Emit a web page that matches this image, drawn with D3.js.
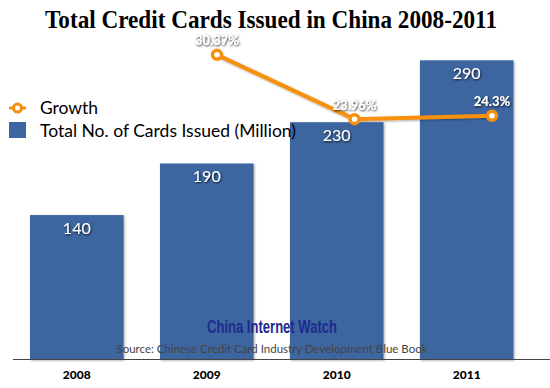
<!DOCTYPE html>
<html><head><meta charset="utf-8">
<script src="https://cdn.jsdelivr.net/npm/d3@7"></script>
<style>body{margin:0;background:#fff}svg{display:block}</style>
</head><body>
<script>
const years = ["2008","2009","2010","2011"];
const cards = [140,190,230,290];
const growthYears = ["2009","2010","2011"];
const growth = [30.37,23.96,24.3];
const growthLabels = ["30.37%","23.96%","24.3%"];
const title = "Total Credit Cards Issued in China 2008-2011";
const legendLabels = ["Growth","Total No. of Cards Issued (Million)"];
const watermark = "China Internet Watch";
const source = "Source: Chinese Credit Card Industry Development Blue Book";

const W=550,H=388, base=359.5, yTop=50;
const svg=d3.select("body").append("svg").attr("width",W).attr("height",H);
const defs=svg.append("defs");
const f=defs.append("filter").attr("id","sh").attr("x","-20%").attr("y","-20%").attr("width","150%").attr("height","150%");
f.append("feDropShadow").attr("dx",1).attr("dy",1).attr("stdDeviation",1).attr("flood-color","#000").attr("flood-opacity",0.35);
const ft=defs.append("filter").attr("id","tsh").attr("x","-20%").attr("y","-40%").attr("width","150%").attr("height","200%");
ft.append("feDropShadow").attr("dx",0.8).attr("dy",1).attr("stdDeviation",0.8).attr("flood-color","#000").attr("flood-opacity",0.85);

const x=d3.scaleBand().domain(years).range([30,513.5]).paddingInner(0.28).paddingOuter(0);
const y=d3.scaleLinear().domain([0,300]).range([base,yTop]);
const xl=d3.scalePoint().domain(years).range([79.5,492]);
const yl=d3.scaleLinear().domain([0,31]).range([base,base-311]);

// title
svg.append("text").attr("x",271).attr("y",28).attr("text-anchor","middle")
  .attr("font-family","Liberation Serif").attr("font-weight","bold").attr("font-size",25)
  .attr("textLength",452).attr("lengthAdjust","spacingAndGlyphs").attr("fill","#000").text(title);

// bars
svg.selectAll("rect.bar").data(years).join("rect").attr("class","bar")
  .attr("x",d=>x(d)).attr("width",x.bandwidth())
  .attr("y",(d,i)=>y(cards[i])).attr("height",(d,i)=>base-y(cards[i]))
  .attr("fill","#3c66a0").attr("filter","url(#sh)");

svg.selectAll("text.val").data(years).join("text").attr("class","val")
  .attr("x",d=>x(d)+x.bandwidth()/2).attr("y",(d,i)=>y(cards[i])+19)
  .attr("text-anchor","middle").attr("font-family","Lato").attr("font-size",16)
  .attr("fill","#fff").attr("filter","url(#tsh)").text((d,i)=>cards[i]);

// watermark + source
svg.append("text").attr("x",272).attr("y",333).attr("text-anchor","middle")
  .attr("font-family","Liberation Sans").attr("font-weight","bold").attr("font-size",18)
  .attr("textLength",130).attr("lengthAdjust","spacingAndGlyphs")
  .attr("fill","#1d2a8e").text(watermark);
svg.append("text").attr("x",272).attr("y",353).attr("text-anchor","middle")
  .attr("font-family","Lato").attr("font-size",12)
  .attr("textLength",311).attr("lengthAdjust","spacingAndGlyphs")
  .attr("fill","#444").text(source);

// axis
const ax=svg.append("g").attr("transform",`translate(0,${base})`)
  .call(d3.axisBottom(x).tickSize(0).tickPadding(11));
ax.select(".domain").remove();
ax.append("line").attr("x1",13).attr("x2",550).attr("stroke","#444").attr("stroke-width",1);
ax.selectAll(".tick text").attr("font-family","Lato").attr("font-weight","900").attr("font-size",12).attr("fill","#000");

// line
const pts=growthYears.map((d,i)=>[xl(d),yl(growth[i])]);
svg.append("path").attr("d",d3.line()(pts)).attr("fill","none").attr("stroke","#f7900f").attr("stroke-width",4).attr("filter","url(#sh)");
svg.selectAll("circle.pt").data(pts).join("circle").attr("class","pt")
  .attr("cx",d=>d[0]).attr("cy",d=>d[1]).attr("r",4.5)
  .attr("fill","#fff").attr("stroke","#f7900f").attr("stroke-width",3.5);
svg.selectAll("text.gl").data(growthYears).join("text").attr("class","gl")
  .attr("x",d=>xl(d)).attr("y",(d,i)=>yl(growth[i])-9.5)
  .attr("text-anchor","middle").attr("font-family","Lato").attr("font-weight",(d,i)=>i==2?"900":"bold").attr("font-size",13)
  .attr("fill","#fff").attr("filter","url(#tsh)").text((d,i)=>growthLabels[i]);

// legend
const lg=svg.append("g");
lg.append("line").attr("x1",9).attr("x2",26).attr("y1",108).attr("y2",108).attr("stroke","#f7900f").attr("stroke-width",3);
lg.append("circle").attr("cx",17.5).attr("cy",108).attr("r",4).attr("fill","#fff").attr("stroke","#f7900f").attr("stroke-width",3);
lg.append("rect").attr("x",9).attr("y",122).attr("width",17).attr("height",16).attr("fill","#3c66a0");
lg.selectAll("text").data(legendLabels).join("text")
  .attr("x",40).attr("y",(d,i)=>114+i*23).attr("font-family","Lato").attr("font-size",17.5).attr("fill","#000")
  .attr("textLength",(d,i)=>i==0?58:256).attr("lengthAdjust","spacingAndGlyphs")
  .text(d=>d);
</script>
</body></html>
